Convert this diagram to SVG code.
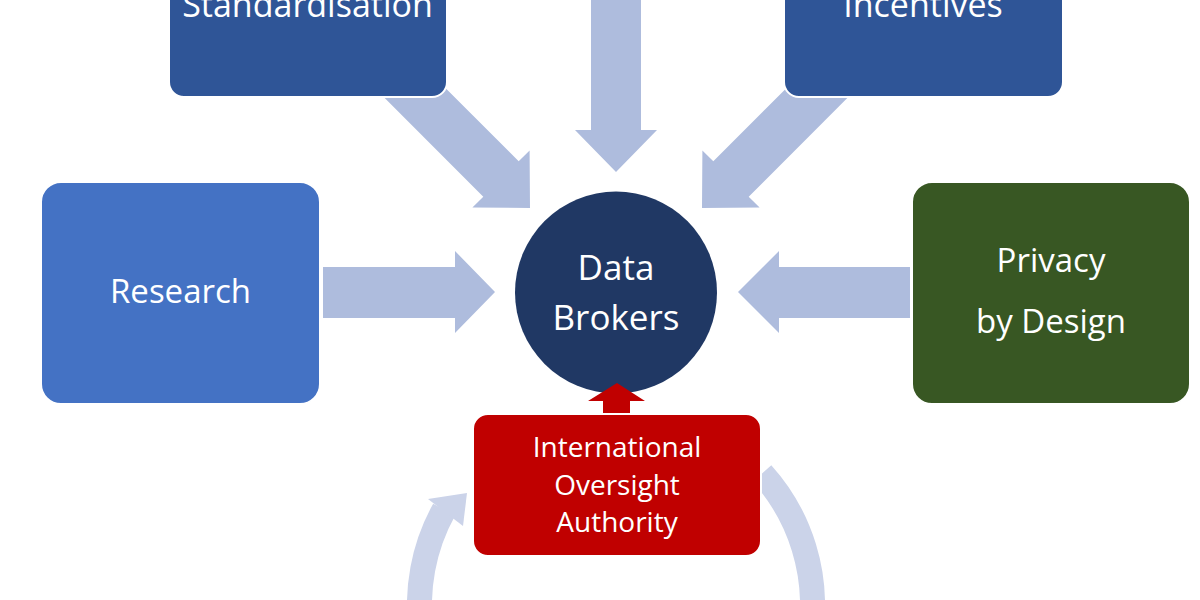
<svg xmlns="http://www.w3.org/2000/svg" width="1200" height="600" viewBox="0 0 1200 600">
<style>
.box{stroke:#ffffff;stroke-width:2}
.t{font-family:"Open Sans","Liberation Sans",sans-serif;fill:#ffffff;text-anchor:middle}
.arr{fill:#aebcdd}
.cyc{fill:none;stroke:#cbd3e9;stroke-width:25}
</style>
<rect width="1200" height="600" fill="#ffffff"/>
<g id="connectors">
  <path class="cyc" d="M 421.4 632.4 A 196.5 196.5 0 0 1 444.1 509.7"/>
  <polygon fill="#cbd3e9" points="428,499 467,493 463,526"/>
  <path class="cyc" d="M 762 473.5 A 196.5 196.5 0 0 1 810.6 632.3"/>
  <polygon class="arr" points="591,-5 641,-5 641,130 657,130 616,172 575,130 591,130"/>
  <polygon class="arr" points="323,267 455,267 455,251 495,292 455,333 455,318 323,318"/>
  <polygon class="arr" points="910,267 779,267 779,251 738,292 779,333 779,318 910,318"/>
  <polygon class="arr" points="405.6,48.2 518.7,161.3 529.6,150.4 530,208 472.4,207.6 483.3,196.7 370.2,83.6"/>
  <polygon class="arr" points="826.4,48.2 713.3,161.3 702.4,150.4 702,208 759.6,207.6 748.7,196.7 861.8,83.6"/>
</g>
<g id="standardisation">
  <rect class="box" x="169" y="-40" width="278" height="137" rx="15" fill="#2f5597"/>
  <text class="t" x="307.5" y="17" font-size="34">Standardisation</text>
</g>
<g id="incentives">
  <rect class="box" x="784" y="-40" width="279" height="137" rx="15" fill="#2f5597"/>
  <text class="t" x="923" y="17" font-size="34">Incentives</text>
</g>
<g id="research">
  <rect class="box" x="41" y="182" width="279" height="222" rx="20" fill="#4472c4"/>
  <text class="t" x="180.5" y="303" font-size="33">Research</text>
</g>
<g id="privacy">
  <rect class="box" x="912" y="182" width="278" height="222" rx="20" fill="#385723"/>
  <text class="t" x="1051" y="272" font-size="33">Privacy</text>
  <text class="t" x="1051" y="333" font-size="33">by Design</text>
</g>
<g id="data-brokers">
  <circle cx="616" cy="292.5" r="101" fill="#203864"/>
  <text class="t" x="616" y="280" font-size="35">Data</text>
  <text class="t" x="616" y="330" font-size="35">Brokers</text>
</g>
<g id="oversight">
  <polygon fill="#c00000" points="603,416 603,401 588,401 617,383 645,401 630,401 630,416"/>
  <rect class="box" x="473" y="414" width="288" height="142" rx="15" fill="#c00000"/>
  <text class="t" x="617" y="457" font-size="28">International</text>
  <text class="t" x="617" y="495" font-size="28">Oversight</text>
  <text class="t" x="617" y="532" font-size="28">Authority</text>
</g>
</svg>
